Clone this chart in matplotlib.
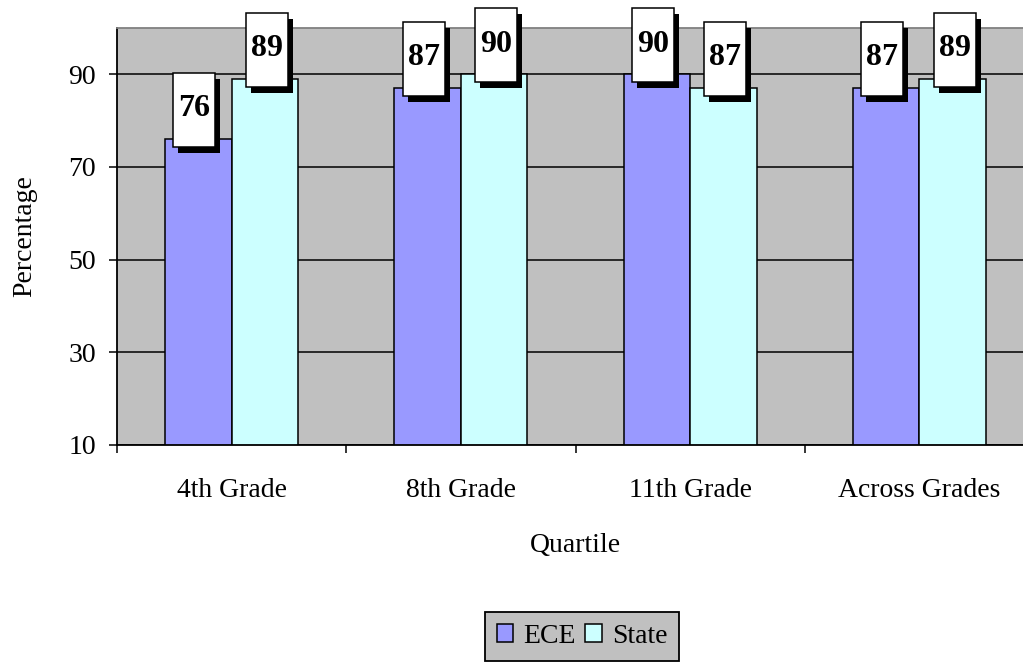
import matplotlib
matplotlib.use("Agg")
import matplotlib.pyplot as plt
from matplotlib.patches import Rectangle, Patch
from matplotlib.transforms import Affine2D, ScaledTranslation
import numpy as np

# Data
categories = ["4th Grade", "8th Grade", "11th Grade", "Across Grades"]
ece = [76, 87, 90, 87]
state = [89, 90, 87, 89]
series_names = ["ECE", "State"]
y_ticks = [10, 30, 50, 70, 90]

plt.rcParams["font.family"] = ["Liberation Serif", "DejaVu Serif"]

ECE_COLOR = "#9999FF"
STATE_COLOR = "#CCFFFF"
PLOT_BG = "#C0C0C0"
FS = 20

fig = plt.figure(figsize=(10.23, 6.62), dpi=100)
ax = fig.add_axes([0.1144, 0.3278, 0.8964, 0.6304])
ax.set_facecolor(PLOT_BG)

n = len(categories)
x = np.arange(n)
width = 0.29

ax.set_xlim(-0.5, n - 0.5)
ax.set_ylim(10, 100)

# Horizontal gridlines
ax.set_yticks(y_ticks)
ax.yaxis.grid(True, color="black", linewidth=1.1)
ax.set_axisbelow(True)

bars_ece = ax.bar(x - width / 2, ece, width, color=ECE_COLOR,
                  edgecolor="black", linewidth=1.1, zorder=2)
bars_state = ax.bar(x + width / 2, state, width, color=STATE_COLOR,
                    edgecolor="black", linewidth=1.1, zorder=2)

# Value labels in boxed callouts with a drop shadow
BOX_W, BOX_H = 42, 74
RISE = 29


def callout(xc, value, dx):
    anchor = ScaledTranslation(xc, value, ax.transData)
    shadow = Rectangle((dx - BOX_W / 2 + 5, RISE - BOX_H / 2 - 6), BOX_W, BOX_H,
                       facecolor="black", edgecolor="none",
                       transform=Affine2D() + anchor, clip_on=False, zorder=5)
    box = Rectangle((dx - BOX_W / 2, RISE - BOX_H / 2), BOX_W, BOX_H,
                    facecolor="white", edgecolor="black", linewidth=1.1,
                    transform=Affine2D() + anchor, clip_on=False, zorder=6)
    ax.add_patch(shadow)
    ax.add_patch(box)
    ax.annotate(f"{value:g}", xy=(xc, value), xytext=(dx, RISE + 1),
                textcoords="offset pixels", ha="center", va="center",
                fontsize=23, fontweight="bold", zorder=7, annotation_clip=False)


for xi, v in zip(x - width / 2, ece):
    callout(xi, v, -4)
for xi, v in zip(x + width / 2, state):
    callout(xi, v, 2)

# Axes styling
ax.spines["left"].set_color("black")
ax.spines["left"].set_linewidth(1.3)
ax.spines["bottom"].set_color("black")
ax.spines["bottom"].set_linewidth(1.3)
ax.spines["top"].set_color("#808080")
ax.spines["top"].set_linewidth(1.3)
ax.spines["right"].set_color("#808080")

ax.tick_params(axis="y", direction="out", length=6, width=1.1,
               labelsize=FS, pad=9)
ax.set_xticks(x)
ax.set_xticklabels(categories)
ax.tick_params(axis="x", which="major", length=0, labelsize=FS, pad=24)
ax.set_xticks(np.arange(n + 1) - 0.5, minor=True)
ax.tick_params(axis="x", which="minor", direction="out", length=6, width=1.1)

ax.set_xlabel("Quartile", fontsize=FS)
ax.xaxis.set_label_coords(0.5, -0.212)
ax.set_ylabel("Percentage", fontsize=FS)
ax.yaxis.set_label_coords(-0.087, 0.5)

handles = [Patch(facecolor=ECE_COLOR, edgecolor="black", linewidth=1.1),
           Patch(facecolor=STATE_COLOR, edgecolor="black", linewidth=1.1)]
leg = fig.legend(handles, series_names, loc="center",
                 bbox_to_anchor=(582 / 1023, 1 - 636.5 / 662),
                 bbox_transform=fig.transFigure, ncol=2, fontsize=FS,
                 handlelength=0.6, handleheight=0.6, handletextpad=0.35,
                 columnspacing=0.35, borderpad=0.42, borderaxespad=0,
                 fancybox=False, framealpha=1, facecolor=PLOT_BG,
                 edgecolor="black")
leg.get_frame().set_linewidth(1.3)

fig.savefig("out.png", dpi=100)
